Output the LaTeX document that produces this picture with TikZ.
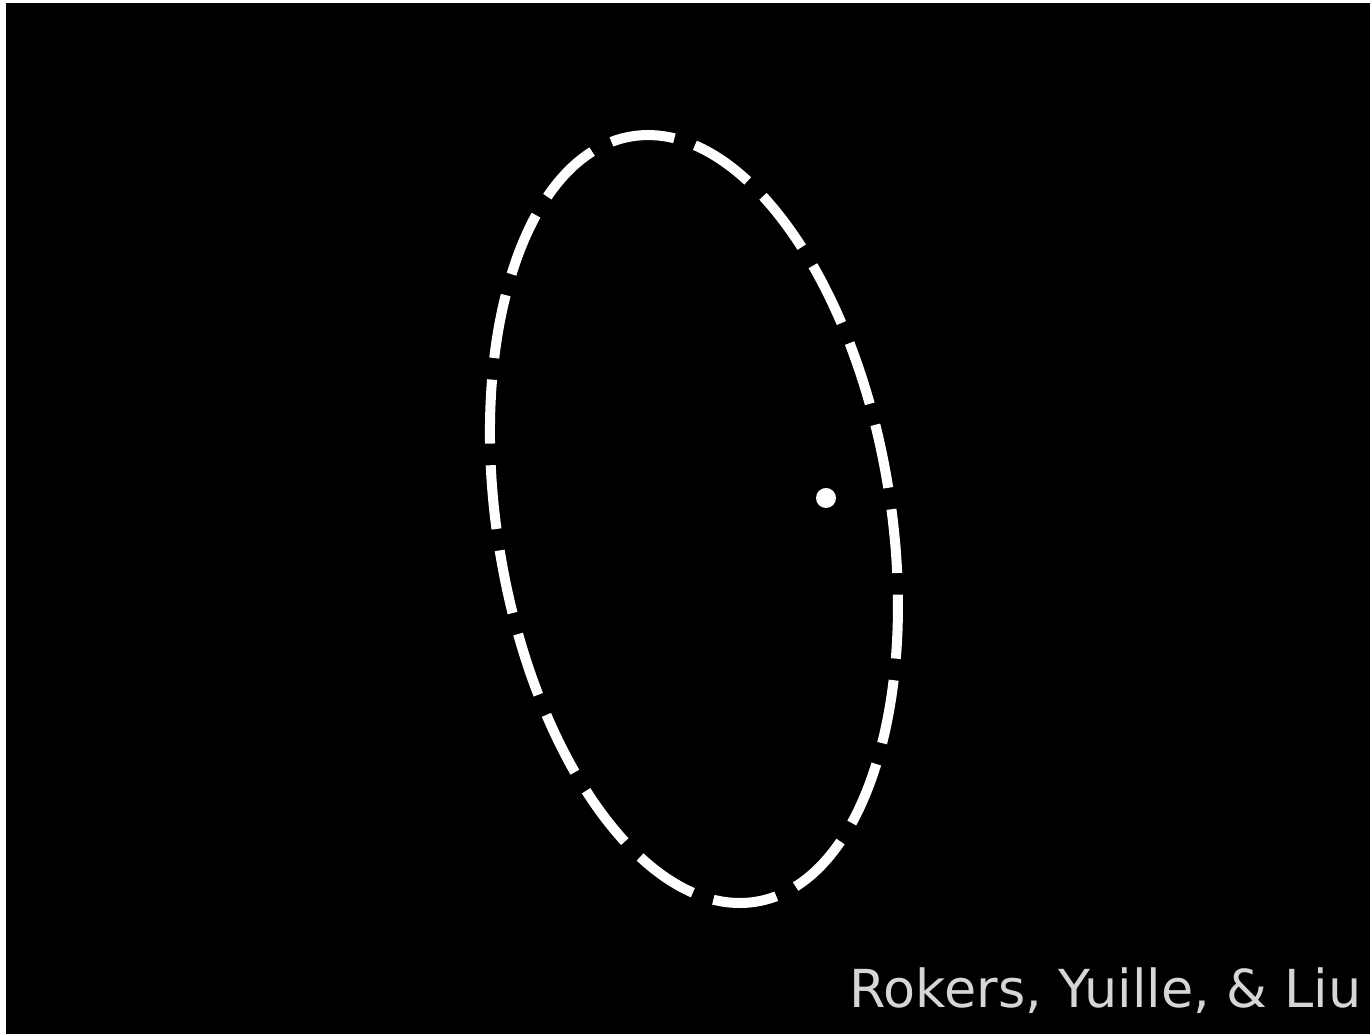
\documentclass[tikz,border=0pt]{standalone}
\usepackage{fontspec}
\setsansfont{DejaVu Sans}
\usetikzlibrary{positioning}

\begin{document}
\begin{tikzpicture}[
x=1cm, y=1cm,
ring/.style={draw=white, line width=0.1cm, dash pattern=on 0.64cm off 0.217cm, dash phase=0cm},
spot/.style={circle, fill=white, inner sep=0pt, minimum size=0.2cm},
credit/.style={text=black!16, font=\sffamily\fontsize{14.9}{17}\selectfont, inner sep=0pt, anchor=base east}
]
\useasboundingbox[fill=white] (0,0) rectangle (13.7,10.34);
\fill[black] (0.06,0) rectangle (13.7,10.31);

\coordinate (c) at (6.94,5.15);
\draw[ring, rotate around={9.23:(c)}] (c) ellipse (1.968 and 3.877);

\node[spot] (dot) at (8.26,5.36) {};
\node[credit] (cite) at (13.62,0.26) {Rokers, Yuille, \& Liu};
\end{tikzpicture}
\end{document}
